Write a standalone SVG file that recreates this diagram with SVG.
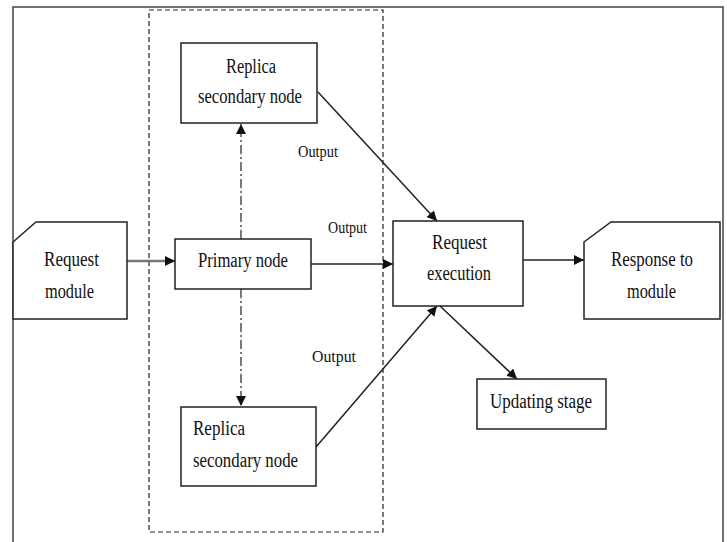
<svg xmlns="http://www.w3.org/2000/svg" width="727" height="542" viewBox="0 0 727 542">
  <style>
    .box { fill: #fff; stroke: #222; stroke-width: 1.5; }
    .lbl { font-size: 20px; fill: #111; }
    .out { font-size: 17px; fill: #111; }
    .edge { fill: none; stroke: #222; stroke-width: 1.5; }
    .dashdot { fill: none; stroke: #222; stroke-width: 1.2; stroke-dasharray: 9 3 2 3; }
  </style>
  <defs>
    <marker id="arrow" viewBox="0 0 10 10" refX="10" refY="5" markerWidth="10" markerHeight="10" markerUnits="userSpaceOnUse" orient="auto">
      <path d="M0,0 L10,5 L0,10 Z" fill="#111"/>
    </marker>
  </defs>

  <rect width="727" height="542" fill="#fff"/>
  <!-- outer frame -->
  <path d="M13,560 L13,7 L723,7 L723,560" fill="none" stroke="#444" stroke-width="1.5"/>
  <!-- replica group boundary -->
  <rect x="149" y="10" width="234" height="522" fill="none" stroke="#222" stroke-width="1.2" stroke-dasharray="5 3"/>

  <g font-family="Liberation Serif, Times New Roman, Times, DejaVu Serif, serif">
  <g id="connectors">
    <line class="dashdot" x1="241" y1="239" x2="241" y2="124" marker-end="url(#arrow)"/>
    <line class="dashdot" x1="241" y1="289" x2="241" y2="406" marker-end="url(#arrow)"/>
    <line x1="127" y1="261" x2="175" y2="261" fill="none" stroke="#777" stroke-width="2.5" marker-end="url(#arrow)"/>
    <line class="edge" x1="311" y1="264" x2="393" y2="264" marker-end="url(#arrow)"/>
    <line class="edge" x1="318" y1="92" x2="437" y2="221" marker-end="url(#arrow)"/>
    <line class="edge" x1="316" y1="447" x2="437" y2="306" marker-end="url(#arrow)"/>
    <line class="edge" x1="523" y1="260" x2="584" y2="260" marker-end="url(#arrow)"/>
    <line class="edge" x1="440" y1="306" x2="517" y2="379" marker-end="url(#arrow)"/>
    <text class="out" x="298" y="157" textLength="40" lengthAdjust="spacingAndGlyphs">Output</text>
    <text class="out" x="328" y="233" textLength="39" lengthAdjust="spacingAndGlyphs">Output</text>
    <text class="out" x="312" y="362" textLength="44" lengthAdjust="spacingAndGlyphs">Output</text>
  </g>

  <g id="replica-top">
    <rect class="box" x="181" y="43" width="136" height="80"/>
    <text class="lbl" x="226" y="73" textLength="50" lengthAdjust="spacingAndGlyphs">Replica</text>
    <text class="lbl" x="198" y="103" textLength="104" lengthAdjust="spacingAndGlyphs">secondary node</text>
  </g>

  <g id="request-module">
    <path class="box" d="M13,242 L36,222 L127,222 L127,319 L13,319 Z"/>
    <text class="lbl" x="44" y="266" textLength="55" lengthAdjust="spacingAndGlyphs">Request</text>
    <text class="lbl" x="45" y="298" textLength="49" lengthAdjust="spacingAndGlyphs">module</text>
  </g>

  <g id="primary-node">
    <rect class="box" x="175" y="239" width="136" height="50"/>
    <text class="lbl" x="198" y="267" textLength="90" lengthAdjust="spacingAndGlyphs">Primary node</text>
  </g>

  <g id="request-execution">
    <rect class="box" x="393" y="221" width="130" height="85"/>
    <text class="lbl" x="432" y="249" textLength="55" lengthAdjust="spacingAndGlyphs">Request</text>
    <text class="lbl" x="427" y="280" textLength="64" lengthAdjust="spacingAndGlyphs">execution</text>
  </g>

  <g id="response-module">
    <path class="box" d="M584,242 L611,222 L720,222 L720,319 L584,319 Z"/>
    <text class="lbl" x="611" y="266" textLength="82" lengthAdjust="spacingAndGlyphs">Response to</text>
    <text class="lbl" x="627" y="298" textLength="49" lengthAdjust="spacingAndGlyphs">module</text>
  </g>

  <g id="updating-stage">
    <rect class="box" x="477" y="379" width="129" height="50"/>
    <text class="lbl" x="490" y="408" textLength="102" lengthAdjust="spacingAndGlyphs">Updating stage</text>
  </g>

  <g id="replica-bottom">
    <rect class="box" x="181" y="407" width="135" height="79"/>
    <text class="lbl" x="193" y="435" textLength="52" lengthAdjust="spacingAndGlyphs">Replica</text>
    <text class="lbl" x="193" y="467" textLength="105" lengthAdjust="spacingAndGlyphs">secondary node</text>
  </g>
  </g>
</svg>
